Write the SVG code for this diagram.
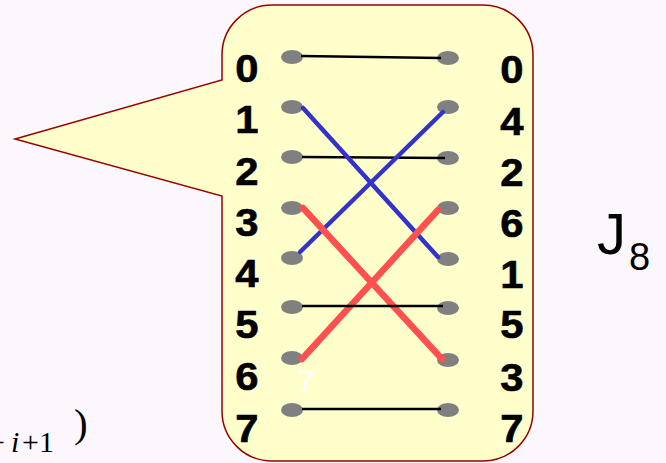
<svg xmlns="http://www.w3.org/2000/svg" width="666" height="463" viewBox="0 0 666 463">
<style>
.lbl{font-family:"Liberation Sans",Arial,sans-serif;font-weight:bold;font-size:38px;fill:#000;text-anchor:middle;stroke:#000;stroke-width:0.6}
.dot{fill:#808080}
.blk{stroke:#000;stroke-width:2.5;fill:none}
.blu{stroke:#3333CC;stroke-width:4.5;stroke-linecap:round;fill:none}
.red{stroke:#FF5050;stroke-width:6.5;stroke-linecap:round;fill:none}
.math{font-family:"Liberation Serif","Times New Roman",serif;fill:#000}
</style>
<rect width="666" height="463" fill="#FCF7FC"/>
<g id="callout">
<path d="M272,5 H483 A50,50 0 0 1 533,55 V411 A50,50 0 0 1 483,461 H272 A50,50 0 0 1 222,411 V196 L15,139 L222,80 V55 A50,50 0 0 1 272,5 Z" fill="#FFFFCC" stroke="#990000" stroke-width="1.5"/>
</g>
<g id="dots">
<ellipse class="dot" cx="292" cy="57" rx="11" ry="7"/>
<ellipse class="dot" cx="292" cy="107" rx="11" ry="7"/>
<ellipse class="dot" cx="292" cy="157" rx="11" ry="7"/>
<ellipse class="dot" cx="292" cy="208" rx="11" ry="7"/>
<ellipse class="dot" cx="292" cy="258" rx="11" ry="7"/>
<ellipse class="dot" cx="292" cy="307" rx="11" ry="7"/>
<ellipse class="dot" cx="292" cy="358" rx="11" ry="7"/>
<ellipse class="dot" cx="292" cy="410" rx="11" ry="7"/>
<ellipse class="dot" cx="448" cy="58" rx="11" ry="7"/>
<ellipse class="dot" cx="448" cy="107" rx="11" ry="7"/>
<ellipse class="dot" cx="448" cy="158" rx="11" ry="7"/>
<ellipse class="dot" cx="448" cy="208" rx="11" ry="7"/>
<ellipse class="dot" cx="448" cy="259" rx="11" ry="7"/>
<ellipse class="dot" cx="448" cy="308" rx="11" ry="7"/>
<ellipse class="dot" cx="448" cy="360" rx="11" ry="7"/>
<ellipse class="dot" cx="448" cy="410" rx="11" ry="7"/>
</g>
<g id="connectors">
<line class="blk" x1="301" y1="56" x2="441" y2="58"/>
<line class="blk" x1="302" y1="157" x2="445" y2="158"/>
<line class="blu" x1="303" y1="108" x2="438" y2="257"/>
<line class="blu" x1="300" y1="252" x2="443" y2="112"/>
<line class="red" x1="303" y1="208" x2="442" y2="359"/>
<line class="red" x1="302" y1="359" x2="438" y2="210"/>
<line class="blk" x1="302" y1="306" x2="443" y2="306"/>
<line class="blk" x1="302" y1="409" x2="441" y2="409"/>
</g>
<g id="left-labels" transform="translate(247,0) scale(1.1,1)">
<text class="lbl" x="0" y="82">0</text>
<text class="lbl" x="0" y="133">1</text>
<text class="lbl" x="0" y="185">2</text>
<text class="lbl" x="0" y="236">3</text>
<text class="lbl" x="0" y="287">4</text>
<text class="lbl" x="0" y="338">5</text>
<text class="lbl" x="0" y="390">6</text>
<text class="lbl" x="0" y="442">7</text>
</g>
<g id="right-labels" transform="translate(512,0) scale(1.1,1)">
<text class="lbl" x="0" y="83">0</text>
<text class="lbl" x="0" y="135">4</text>
<text class="lbl" x="0" y="186">2</text>
<text class="lbl" x="0" y="237">6</text>
<text class="lbl" x="0" y="288">1</text>
<text class="lbl" x="0" y="338">5</text>
<text class="lbl" x="0" y="391">3</text>
<text class="lbl" x="0" y="442">7</text>
</g>
<text x="297" y="393" font-family="'Liberation Sans',Arial,sans-serif" font-size="32" fill="#FFFFFF">7</text>
<g id="title">
<text x="597" y="254" font-family="'Liberation Sans',Arial,sans-serif" font-size="58" fill="#000">J</text>
<text x="629" y="270" font-family="'Liberation Sans',Arial,sans-serif" font-size="38" fill="#000">8</text>
</g>
<g id="formula">
<text class="math" y="452" font-size="30"><tspan x="-12">+</tspan><tspan x="11" font-style="italic">i</tspan><tspan x="22">+1</tspan></text>
<text class="math" x="74" y="437" font-size="41">)</text>
</g>
</svg>
